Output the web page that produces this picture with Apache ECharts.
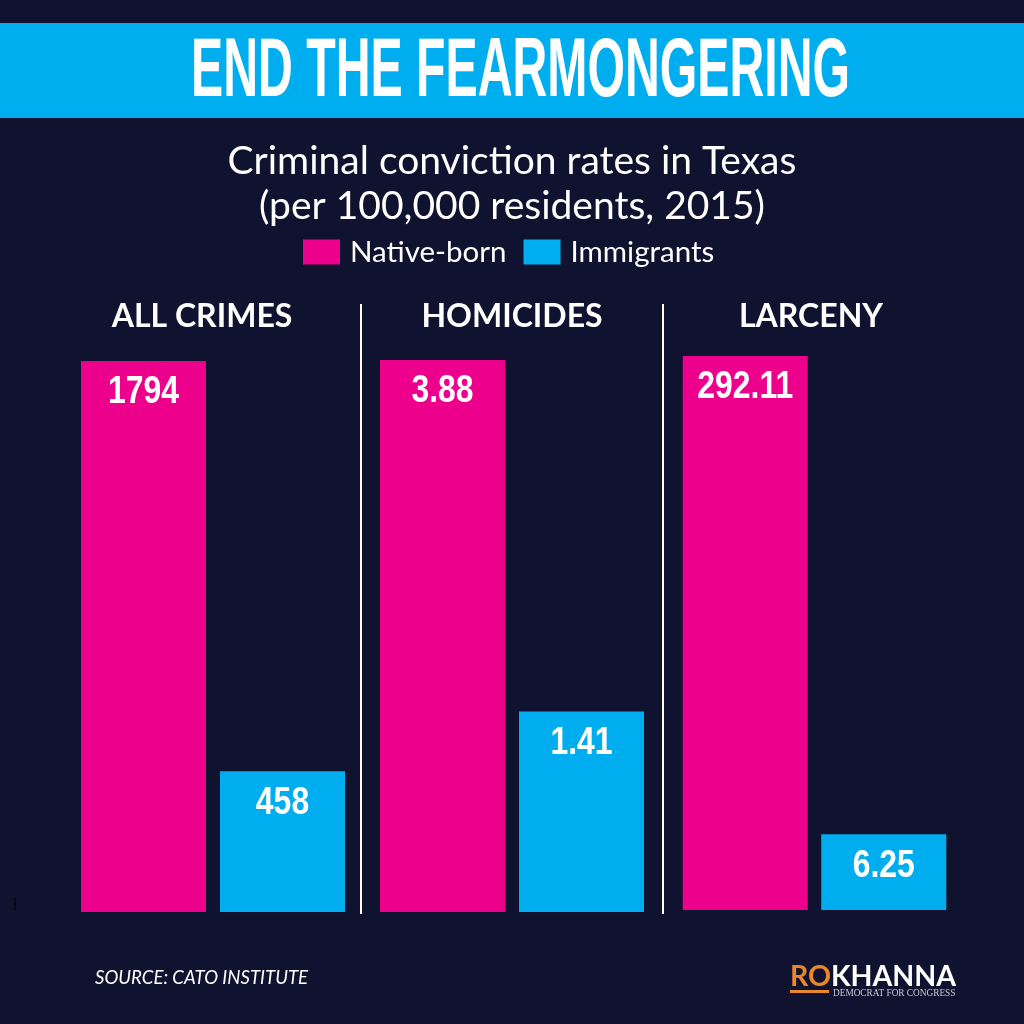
<!DOCTYPE html>
<html>
<head>
<meta charset="utf-8">
<style>
  html, body { margin: 0; padding: 0; background: #10132f; }
  #chart { width: 1024px; height: 1024px; }
</style>
<script src="https://cdn.jsdelivr.net/npm/echarts@6/dist/echarts.min.js"></script>
</head>
<body>
<div id="chart"></div>
<script>
const panels = ['ALL CRIMES', 'HOMICIDES', 'LARCENY'];
const groups = ['Native-born', 'Immigrants'];
const nativeValues = [1794, 3.88, 292.11];
const immigrantValues = [458, 1.41, 6.25];
const nativeHeights = [1794, 3.88, 292.11];
const immigrantHeights = [458, 1.41, 40];

const bg = '#10132f';
const pink = '#ec008c';
const blue = '#00aeef';
const orange = '#e8872b';
const heavy = '"Liberation Sans", sans-serif';
const body = 'Lato, "Noto Sans", sans-serif';

// 每个面板一个 grid
const gridPos = [
  { left: 74, top: 361, width: 278, height: 551 },
  { left: 373, top: 360, width: 278, height: 552 },
  { left: 676, top: 356, width: 277, height: 554 }
];
const titleCenters = [197, 507, 806];

const chart = echarts.init(document.getElementById('chart'), null, { renderer: 'canvas' });

// 窄体字没有安装，用 scaleX 压窄
const renderValueLabel = (params, api) => {
  const pos = api.coord([api.value(0), api.value(1)]);
  return {
    type: 'text',
    x: pos[0],
    y: pos[1] + 13,
    scaleX: 0.84,
    silent: true,
    style: {
      text: String(api.value(2)),
      fill: '#fff',
      align: 'center',
      verticalAlign: 'top',
      font: 'bold 38px ' + heavy
    }
  };
};

const series = [];
panels.forEach((name, i) => {
  series.push({
    name: groups[0],
    type: 'bar',
    xAxisIndex: i,
    yAxisIndex: i,
    barWidth: 125,
    barGap: '-100%',
    itemStyle: { color: pink },
    data: [nativeHeights[i], null]
  });
  series.push({
    name: groups[1],
    type: 'bar',
    xAxisIndex: i,
    yAxisIndex: i,
    barWidth: 125,
    barGap: '-100%',
    itemStyle: { color: blue },
    data: [null, immigrantHeights[i]]
  });
  series.push({
    name: name,
    type: 'custom',
    xAxisIndex: i,
    yAxisIndex: i,
    z: 5,
    renderItem: renderValueLabel,
    encode: { x: 0, y: 1 },
    data: [
      [0, nativeHeights[i], nativeValues[i]],
      [1, immigrantHeights[i], immigrantValues[i]]
    ]
  });
});

const option = {
  backgroundColor: bg,
  animation: false,
  title: [
    {
      text: 'Criminal conviction rates in Texas\n(per 100,000 residents, 2015)',
      left: 507, top: 134, textAlign: 'center',
      textStyle: { color: '#fff', fontFamily: body, fontWeight: 'normal', fontSize: 39, lineHeight: 45 }
    }
  ].concat(panels.map((name, i) => ({
    text: name,
    left: titleCenters[i], top: 296, textAlign: 'center',
    textStyle: { color: '#fff', fontFamily: body, fontWeight: 'bold', fontSize: 32 }
  }))).concat([
    {
      text: 'SOURCE: CATO INSTITUTE',
      left: 90, top: 963,
      textStyle: { color: '#fff', fontFamily: body, fontStyle: 'italic', fontWeight: 'normal', fontSize: 18.6 }
    },
    {
      text: '{ro|RO}{kh|KHANNA}',
      left: 785, top: 957,
      textStyle: {
        rich: {
          ro: { color: orange, fontFamily: body, fontSize: 28.5 },
          kh: { color: '#fff', fontFamily: body, fontSize: 28.5 }
        }
      }
    },
    {
      text: 'DEMOCRAT FOR CONGRESS',
      left: 828, top: 984,
      textStyle: { color: '#c9c9d2', fontFamily: '"Liberation Serif", serif', fontWeight: 'normal', fontSize: 9.3 }
    }
  ]),
  legend: {
    data: groups,
    left: 298, top: 232,
    itemWidth: 37,
    itemHeight: 25,
    itemGap: 17,
    icon: 'rect',
    selectedMode: false,
    textStyle: { color: '#fff', fontFamily: body, fontSize: 29.5, padding: [0, 0, 0, 5] }
  },
  grid: gridPos,
  xAxis: panels.map((name, i) => ({
    type: 'category',
    gridIndex: i,
    data: groups,
    axisLine: { show: false },
    axisTick: { show: false },
    axisLabel: { show: false }
  })),
  yAxis: panels.map((name, i) => ({
    type: 'value',
    gridIndex: i,
    min: 0,
    max: nativeHeights[i],
    axisLine: { show: false },
    axisTick: { show: false },
    axisLabel: { show: false },
    splitLine: { show: false }
  })),
  graphic: [
    // 顶部横幅
    { type: 'rect', z: 0, shape: { x: 0, y: 23, width: 1024, height: 95 }, style: { fill: blue } },
    {
      type: 'text', z: 1, x: 520.5, y: 73, scaleX: 0.574,
      style: {
        text: 'END THE FEARMONGERING', fill: '#fff', align: 'center', verticalAlign: 'middle',
        font: 'bold 84px ' + heavy
      }
    },
    // 面板分隔线
    { type: 'line', shape: { x1: 361, y1: 304, x2: 361, y2: 914 }, style: { stroke: '#fff', lineWidth: 2 } },
    { type: 'line', shape: { x1: 663, y1: 304, x2: 663, y2: 914 }, style: { stroke: '#fff', lineWidth: 2 } },
    // logo 下划线
    { type: 'rect', shape: { x: 790, y: 990, width: 39, height: 3 }, style: { fill: orange } },
    { type: 'line', shape: { x1: 15, y1: 897, x2: 15, y2: 911 }, style: { stroke: '#000', lineWidth: 1 } }
  ],
  series: series
};
chart.setOption(option);
</script>
</body>
</html>
